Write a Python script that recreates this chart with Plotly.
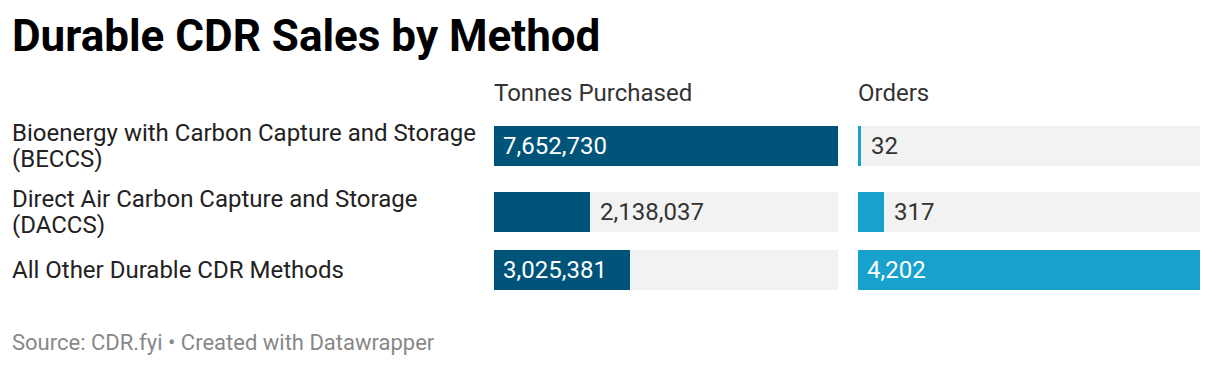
import plotly.graph_objects as go

# ---- data ----
methods = [
    "Bioenergy with Carbon Capture and Storage<br>(BECCS)",
    "Direct Air Carbon Capture and Storage<br>(DACCS)",
    "All Other Durable CDR Methods",
]
tonnes = [7652730, 2138037, 3025381]
orders = [32, 317, 4202]
col_titles = ["Tonnes Purchased", "Orders"]

# ---- layout constants (pixels; page body has an 8px margin) ----
OFF = 8
W, H = 1220, 366
row_centers = [146 - OFF, 212 - OFF, 270 - OFF]
bar_h = 40
line_h = 26
dom1 = [(494 - OFF) / W, (838 - OFF) / W]
dom2 = [(858 - OFF) / W, (1200 - OFF) / W]
FONT = "Roboto"
dark = "#00547a"
light = "#18a1cd"
track = "#f2f2f2"

fig = go.Figure()

def add_col(vals, color, xa, ya):
    mx = max(vals)
    fig.add_trace(go.Bar(x=[mx] * len(vals), y=row_centers, orientation="h",
                         width=bar_h, marker=dict(color=track, line_width=0),
                         xaxis=xa, yaxis=ya, hoverinfo="skip", showlegend=False))
    fig.add_trace(go.Bar(x=vals, y=row_centers, orientation="h",
                         width=bar_h, marker=dict(color=color, line_width=0),
                         xaxis=xa, yaxis=ya, showlegend=False))
    for v, yc in zip(vals, row_centers):
        inside = v / mx > 0.35
        fig.add_annotation(
            x=0 if inside else v, y=yc, xref=xa, yref=ya,
            text=f"{v:,}", showarrow=False, xanchor="left", yanchor="middle",
            xshift=7 if inside else 8,
            font=dict(family=FONT, size=24, color="#ffffff" if inside else "#333333"),
        )

add_col(tonnes, dark, "x", "y")
add_col(orders, light, "x2", "y2")

fig.update_layout(
    width=W, height=H, margin=dict(l=0, r=0, t=0, b=0),
    paper_bgcolor="white", plot_bgcolor="white",
    barmode="overlay", bargap=0,
    xaxis=dict(domain=dom1, range=[0, max(tonnes)], visible=False, fixedrange=True),
    xaxis2=dict(domain=dom2, range=[0, max(orders)], visible=False, fixedrange=True),
    yaxis=dict(domain=[0, 1], range=[H, 0], visible=False, fixedrange=True),
    yaxis2=dict(domain=[0, 1], range=[H, 0], visible=False, fixedrange=True, anchor="x2"),
    font=dict(family=FONT),
)

def py(p):
    return 1 - (p - OFF) / H

# title
fig.add_annotation(x=(10 - OFF) / W, y=py(36), xref="paper", yref="paper",
                   text="<b>Durable CDR Sales by Method</b>", showarrow=False,
                   xanchor="left", yanchor="middle",
                   font=dict(family=FONT, size=44, color="#000000"))
# column headers
for t, d in zip(col_titles, [dom1, dom2]):
    fig.add_annotation(x=d[0], y=py(93), xref="paper", yref="paper",
                       text=t, showarrow=False, xanchor="left", yanchor="middle",
                       xshift=-2,
                       font=dict(family=FONT, size=24, color="#333333"))
# row labels (one annotation per line for tight line spacing)
for m, yc in zip(methods, row_centers):
    lines = m.split("<br>")
    n = len(lines)
    for i, ln in enumerate(lines):
        ly = yc + (i - (n - 1) / 2) * line_h
        fig.add_annotation(x=(10 - OFF) / W, y=1 - ly / H, xref="paper", yref="paper",
                           text=ln, showarrow=False, xanchor="left", yanchor="middle",
                           align="left", height=line_h, borderpad=0, xshift=1,
                           font=dict(family=FONT, size=24, color="#222222"))
# footer
fig.add_annotation(x=(10 - OFF) / W, y=py(342), xref="paper", yref="paper",
                   text="Source: CDR.fyi • Created with Datawrapper", showarrow=False,
                   xanchor="left", yanchor="middle",
                   font=dict(family=FONT, size=22, color="#888888"))

fig.write_html("out.html")
